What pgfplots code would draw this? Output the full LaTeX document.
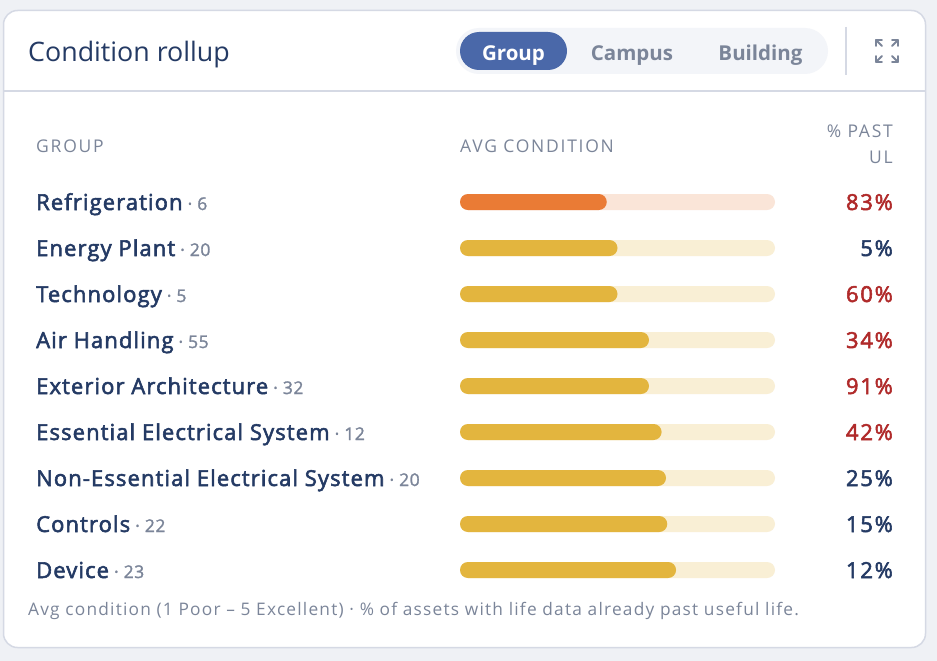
\documentclass[border=0pt]{standalone}
\usepackage{fontspec}
\setmainfont{Open Sans}
\newfontfamily\medfont[FakeBold=2.5,LetterSpace=5]{Open Sans}
\newfontfamily\cntfont[FakeBold=1.5,LetterSpace=3]{Open Sans}
\newfontfamily\capsfont[LetterSpace=10]{Open Sans}
\newfontfamily\pctfont[LetterSpace=8,FakeBold=2.5]{Open Sans}
\newfontfamily\footfont[LetterSpace=7]{Open Sans}
\usepackage{pgfplots}
\pgfplotsset{compat=1.18}
\definecolor{bg}{HTML}{EFF1F5}
\definecolor{cardborder}{HTML}{D5D9E4}
\definecolor{navy}{HTML}{243A64}
\definecolor{grayt}{HTML}{7B8599}
\definecolor{pillbg}{HTML}{F3F5F9}
\definecolor{pillblue}{HTML}{4A68A9}
\definecolor{orbar}{HTML}{EA7B35}
\definecolor{orlight}{HTML}{FAE5D8}
\definecolor{yebar}{HTML}{E3B53E}
\definecolor{yelight}{HTML}{F9EFD5}
\definecolor{redt}{HTML}{B02A2A}
\begin{document}
\begin{tikzpicture}
\begin{scope}[x=1pt,y=-1pt]
  \fill[bg] (0,0) rectangle (937,661);
  \draw[fill=white, draw=cardborder, line width=1.5pt, rounded corners=14pt] (3.5,10.5) rectangle (925.5,647.5);
  \draw[cardborder, line width=1.5pt] (4.2,91) -- (924.8,91);
  % title
  \node[anchor=base west, inner sep=0, text=navy] at (28,62) {\fontsize{26.8}{30}\selectfont Condition rollup};
  % toggle
  \fill[pillbg, rounded corners=23pt] (456,28) rectangle (828,74);
  \fill[pillblue, rounded corners=19pt] (460,32) rectangle (567,70);
  \node[anchor=base, inner sep=0, text=white] at (513.5,60) {\fontsize{20.5}{24}\selectfont\bfseries Group};
  \node[anchor=base, inner sep=0, text=grayt] at (632,60) {\fontsize{20.5}{24}\selectfont\bfseries Campus};
  \node[anchor=base, inner sep=0, text=grayt] at (760.5,60) {\fontsize{20.5}{24}\selectfont\bfseries Building};
  \draw[cardborder, line width=1.5pt] (846,27) -- (846,75);
  % expand icon
  \begin{scope}[grayt, line width=1.8pt, line cap=round, line join=round]
    \draw (876,46) -- (876,40) -- (882,40); \draw (876,40) -- (882,46);
    \draw (892,40) -- (898,40) -- (898,46); \draw (898,40) -- (892,46);
    \draw (876,56) -- (876,62) -- (882,62); \draw (876,62) -- (882,56);
    \draw (892,62) -- (898,62) -- (898,56); \draw (898,62) -- (892,56);
  \end{scope}
  % column headers
  \node[anchor=base west, inner sep=0, text=grayt] at (36,152) {\fontsize{17.5}{20}\selectfont\capsfont GROUP};
  \node[anchor=base west, inner sep=0, text=grayt] at (460,152) {\fontsize{17.5}{20}\selectfont\capsfont AVG CONDITION};
  \node[anchor=base east, inner sep=0, text=grayt] at (893,137) {\fontsize{17.5}{20}\selectfont\capsfont \% PAST};
  \node[anchor=base east, inner sep=0, text=grayt] at (893,163.5) {\fontsize{17.5}{20}\selectfont\capsfont UL};
  % rows
  \foreach \name/\cnt/\pct/\col [count=\i from 0] in {
    Refrigeration/6/83/redt,
    Energy Plant/20/5/navy,
    Technology/5/60/redt,
    Air Handling/55/34/redt,
    Exterior Architecture/32/91/redt,
    Essential Electrical System/12/42/redt,
    Non-Essential Electrical System/20/25/navy,
    Controls/22/15/navy,
    Device/23/12/navy} {
    \pgfmathsetmacro\yb{210+46*\i}
    \node[anchor=base west, inner sep=0] at (36,\yb) {\fontsize{22}{26}\selectfont\textcolor{navy}{\medfont \name}\textcolor{grayt}{\fontsize{17.5}{20}\selectfont\cntfont\hspace{5pt}·\hspace{5pt}\cnt}};
    \node[anchor=base east, inner sep=0, text=\col] at (893,\yb) {\fontsize{22}{26}\selectfont\pctfont \pct\%};
  }
  % footer
  \node[anchor=base west, inner sep=0, text=grayt] at (28,615) {\fontsize{17.3}{20}\selectfont\footfont Avg condition (1 Poor – 5 Excellent) · \% of assets with life data already past useful life.};
\end{scope}
\begin{axis}[at={(460pt,-179pt)}, anchor=north west, scale only axis,
  width=315pt, height=414pt, xmin=0, xmax=5, ymin=-0.5, ymax=8.5,
  y dir=reverse, hide axis, clip=false]
  \addplot[xbar, bar width=16pt, bar shift=0pt, draw=none, fill=orlight, rounded corners=8pt] coordinates {(5,0)};
  \addplot[xbar, bar width=16pt, bar shift=0pt, draw=none, fill=yelight, rounded corners=8pt] coordinates {(5,1) (5,2) (5,3) (5,4) (5,5) (5,6) (5,7) (5,8)};
  \addplot[xbar, bar width=16pt, bar shift=0pt, draw=none, fill=orbar, rounded corners=8pt] coordinates {(2.33,0)};
  \addplot[xbar, bar width=16pt, bar shift=0pt, draw=none, fill=yebar, rounded corners=8pt] coordinates {(2.50,1) (2.50,2) (3.00,3) (3.00,4) (3.20,5) (3.27,6) (3.29,7) (3.43,8)};
\end{axis}
\end{tikzpicture}
\end{document}
